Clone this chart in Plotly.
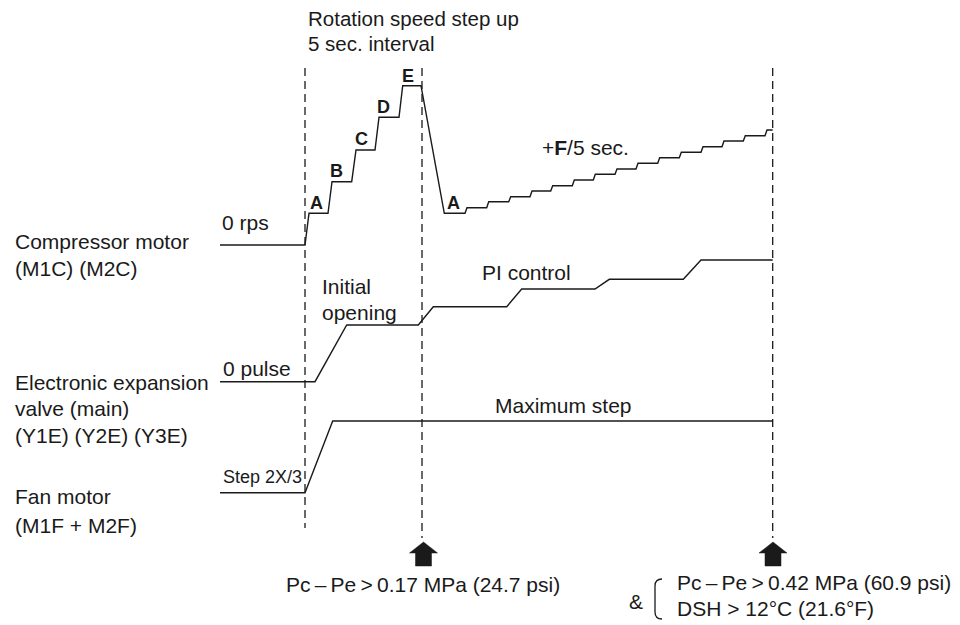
import plotly.graph_objects as go

# ---------------- data (diagram units = px) -------------
# Compressor motor waveform
comp_t = [220, 305, 309, 328, 332, 351.7, 356, 375, 379, 399, 402.7, 421, 444.3, 465,
          467, 486.7, 488.7, 508.7, 510.7, 530, 532, 550.7, 552.7, 572.3, 574.3, 593.3,
          595.3, 615, 617, 636, 638, 657.7, 659.7, 679.3, 681.3, 701, 703, 722, 724,
          743.3, 745.3, 765, 767, 772.7]
comp_level = [245, 245, 213.3, 213.3, 181.7, 181.7, 150, 150, 117.3, 117.3, 85.7, 85.7, 213.3, 213.3,
              207.7, 207.7, 201.7, 201.7, 196.7, 196.7, 191, 191, 185.7, 185.7, 180, 180,
              174.3, 174.3, 169, 169, 163.3, 163.3, 157.7, 157.7, 152.3, 152.3, 146.7, 146.7, 141,
              141, 135.7, 135.7, 130, 130]

# Electronic expansion valve waveform
valve_t = [220, 315, 346.7, 418.3, 433.3, 506.7, 521.7, 595, 609.3, 683.3, 701, 772.7]
valve_level = [381.7, 381.7, 325, 325, 306.7, 306.7, 289, 289, 279.3, 279.3, 260, 260]

# Fan motor waveform
fan_t = [220, 305, 332.7, 772.7]
fan_level = [492.7, 492.7, 421, 421]

# Event times (dashed markers) and which ones have trigger arrows
event_t = [305, 422, 772.7]
event_bottom = [528, 538, 538]
arrow_t = [423.5, 773]

# Step labels on compressor ramp
step_labels = ["A", "B", "C", "D", "E", "A"]
step_label_t = [316.3, 336.7, 361.3, 383.3, 408.3, 453.7]
step_label_level = [203.3, 171, 139, 106.7, 76, 203.3]

# ---------------- figure ----------------
FONT = "Liberation Sans, Arial, Helvetica, sans-serif"
INK = "#1a1a1a"

fig = go.Figure()

for t in range(len(event_t)):
    fig.add_trace(go.Scatter(x=[event_t[t], event_t[t]], y=[68, event_bottom[t]], mode="lines",
                             line=dict(color=INK, width=1.3, dash="8px,5px"),
                             hoverinfo="skip", showlegend=False))

for xs, ys in [(comp_t, comp_level), (valve_t, valve_level), (fan_t, fan_level)]:
    fig.add_trace(go.Scatter(x=xs, y=ys, mode="lines",
                             line=dict(color=INK, width=1.4),
                             hoverinfo="skip", showlegend=False))

shapes = []
for c in arrow_t:
    path = (f"M {c},542 L {c+14},553 L {c+8},553 L {c+8},566 L {c-8},566 "
            f"L {c-8},553 L {c-14},553 Z")
    shapes.append(dict(type="path", path=path, xref="x", yref="y",
                       fillcolor=INK, line=dict(color=INK, width=0.5)))
# bracket
shapes.append(dict(type="path",
                   path="M 662,579 Q 655,579 655,586 L 655,612 Q 655,619 662,619",
                   xref="x", yref="y", line=dict(color=INK, width=1.3)))

ann = []
def txt(x, y, s, size=21, anchor="left", bold=False):
    if bold:
        s = f"<b>{s}</b>"
    ann.append(dict(x=x, y=y, xref="x", yref="y", text=s, showarrow=False,
                    xanchor=anchor, yanchor="middle",
                    font=dict(family=FONT, size=size, color=INK)))

txt(306, 18, "Rotation speed step up", size=20.5)
txt(306, 43, "5 sec. interval", size=20.5)
txt(220, 222, "0 rps")
txt(13, 241, "Compressor motor")
txt(13, 268, "(M1C) (M2C)")
txt(320, 286, "Initial")
txt(320, 312, "opening")
txt(480, 272, "PI control")
txt(220.5, 368, "0 pulse")
txt(13, 382, "Electronic expansion")
txt(13, 408, "valve (main)")
txt(13, 435, "(Y1E) (Y2E) (Y3E)")
txt(493, 405, "Maximum step")
txt(220.5, 477, "Step 2X/3", size=18)
txt(13, 496, "Fan motor")
txt(13, 525, "(M1F + M2F)")
txt(540, 147, "+<b>F</b>/5 sec.")
txt(284, 584, "Pc\u2009–\u2009Pe\u2009>\u20090.17 MPa (24.7 psi)")
txt(627, 601, "&amp;")
txt(675, 582, "Pc\u2009–\u2009Pe\u2009>\u20090.42 MPa (60.9 psi)")
txt(675, 608, "DSH > 12°C (21.6°F)")

for lab, x, y in zip(step_labels, step_label_t, step_label_level):
    txt(x, y, lab, size=18, anchor="center", bold=True)

fig.update_layout(
    width=960, height=625,
    margin=dict(l=0, r=0, t=0, b=0),
    paper_bgcolor="white", plot_bgcolor="white",
    xaxis=dict(range=[0, 960], visible=False, fixedrange=True),
    yaxis=dict(range=[625, 0], visible=False, fixedrange=True),
    shapes=shapes, annotations=ann,
    showlegend=False,
)

fig.write_html("out.html", config={"displayModeBar": False},
               post_script="document.body.style.margin='0';document.body.style.overflow='hidden';")
